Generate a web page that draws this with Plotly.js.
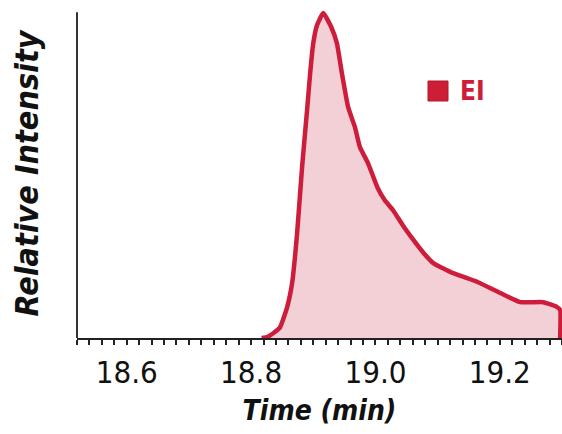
<!DOCTYPE html>
<html>
<head>
<meta charset="utf-8">
<script src="https://cdn.plot.ly/plotly-3.0.1.min.js"></script>
<style>html,body{margin:0;padding:0;background:#fff;}#chart{width:562px;height:434px;}</style>
</head>
<body>
<div id="chart"></div>
<script>
// Retention time (min) and relative intensity of the EI trace
var timeMin = [18.817, 18.827, 18.846, 18.858, 18.866, 18.874, 18.882, 18.890, 18.895, 18.900, 18.906,
  18.916, 18.929, 18.938, 18.946, 18.956, 18.967, 18.975, 18.988, 19.003, 19.015, 19.028,
  19.045, 19.061, 19.077, 19.093, 19.125, 19.164, 19.201, 19.233, 19.270, 19.292, 19.297, 19.297];
var intensity = [0.000, 0.004, 0.031, 0.095, 0.169, 0.322, 0.525, 0.699, 0.813, 0.905, 0.960,
  0.998, 0.954, 0.905, 0.813, 0.709, 0.647, 0.586, 0.537, 0.463, 0.423, 0.393,
  0.343, 0.301, 0.262, 0.230, 0.199, 0.172, 0.138, 0.110, 0.110, 0.095, 0.086, 0.000];
var seriesName = "EI";
var tickVals = [18.6, 18.8, 19.0, 19.2];
var tickText = ["18.6", "18.8", "19.0", "19.2"];

var FONT = "'Noto Sans ExtraCondensed', 'Noto Sans Condensed', 'Liberation Sans Narrow', 'DejaVu Sans Condensed', sans-serif";
var RED = "#cd1d3b";

var trace = {
  x: timeMin, y: intensity, type: "scatter", mode: "lines",
  name: seriesName,
  line: {color: RED, width: 4.5, shape: "spline", smoothing: 0.4},
  fill: "tozeroy", fillcolor: "#f3d0d5",
  showlegend: false, hoverinfo: "skip"
};

var layout = {
  width: 562, height: 434,
  margin: {l: 77, r: 0, t: 9, b: 96},
  paper_bgcolor: "#fff", plot_bgcolor: "#fff",
  font: {family: FONT, color: "#111"},
  xaxis: {
    range: [18.52, 19.30],
    tickvals: tickVals, ticktext: tickText,
    ticks: "outside", ticklen: 5, tickwidth: 2, tickcolor: "#222",
    minor: {dtick: 0.02, tick0: 18.6, ticks: "outside", ticklen: 5, tickwidth: 2, tickcolor: "#222"},
    showline: true, linecolor: "#222", linewidth: 2,
    showgrid: false, zeroline: false,
    tickfont: {family: FONT, size: 31, color: "#111"},
    ticklabelstandoff: 1,
    title: {text: "<b><i>Time (min)</i></b>", font: {family: FONT, size: 28, color: "#111"}, standoff: 11}
  },
  yaxis: {
    range: [0, 1.01],
    showticklabels: false, ticks: "",
    showline: false,
    showgrid: false, zeroline: false,
    title: {text: "<b><i>Relative Intensity</i></b>", font: {family: FONT, size: 32, color: "#111"}, standoff: 27}
  },
  shapes: [{
    type: "line", xref: "paper", yref: "y",
    x0: 0, x1: 0, y0: 0, y1: 1.0,
    line: {color: "#333", width: 2}
  }, {
    type: "rect", xref: "paper", yref: "paper",
    x0: (428 - 77) / 485, x1: (448 - 77) / 485,
    y0: (338 - 101) / 329, y1: (338 - 81) / 329,
    fillcolor: "#cc1f36", line: {color: "#b3162e", width: 1}
  }],
  annotations: [{
    xref: "paper", yref: "paper",
    x: (458 - 77) / 485, y: (338 - 91) / 329,
    xanchor: "left", yanchor: "middle", showarrow: false,
    text: "<b>" + seriesName + "</b>",
    font: {family: FONT, size: 26, color: RED}
  }]
};

Plotly.newPlot("chart", [trace], layout, {displayModeBar: false, staticPlot: true});
</script>
</body>
</html>
